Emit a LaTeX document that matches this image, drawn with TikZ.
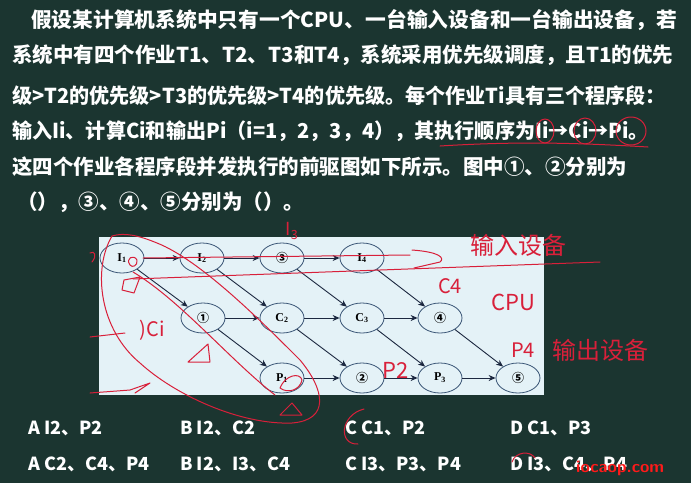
\documentclass[tikz,border=0pt]{standalone}
\usepackage{fontspec}
\setmainfont{Liberation Serif}
\newfontfamily\cjk{Noto Sans CJK SC}
\usetikzlibrary{arrows.meta,shapes.geometric}
\definecolor{bg}{HTML}{1B3530}
\definecolor{boxfill}{HTML}{E4F2F7}
\definecolor{nodeline}{HTML}{3A5676}
\definecolor{edgecol}{HTML}{1C2840}
\definecolor{pen}{HTML}{D8203A}
\definecolor{mark}{HTML}{FF1A1A}
\begin{document}
\begin{tikzpicture}[x=1pt,y=-1pt,
  qline/.style={font=\cjk\bfseries\fontsize{20.5}{24}\selectfont, text=white, anchor=west, inner sep=0},
  opt/.style={font=\cjk\bfseries\fontsize{18}{22}\selectfont, text=white, anchor=west, inner sep=0},
  gnode/.style={ellipse, draw=nodeline, line width=0.8pt, minimum width=44pt, minimum height=30pt, inner sep=0, font=\fontsize{12}{14}\selectfont\bfseries},
  edge/.style={-{Stealth[length=7pt,width=6pt]}, draw=edgecol, line width=0.9pt},
  hand/.style={text=pen, font=\cjk\fontsize{18}{20}\selectfont, inner sep=0},
  stroke/.style={draw=pen, line width=1pt, line cap=round, line join=round}]
\fill[bg] (0,0) rectangle (691,483);
\useasboundingbox (0,0) rectangle (691,483);

% question text
\node[qline] (l1) at (31,20) {\scalebox{1.012}[1]{假设某计算机系统中只有一个CPU、一台输入设备和一台输出设备，若}};
\node[qline] (l2) at (12,55) {系统中有四个作业T1、T2、T3和T4，系统采用优先级调度，且T1的优先};
\node[qline] (l3) at (12,96) {\scalebox{0.98}[1]{级>T2的优先级>T3的优先级>T4的优先级。每个作业Ti具有三个程序段：}};
\node[qline] (l4) at (12,131) {\scalebox{0.98}[1]{输入Ii、计算Ci和输出Pi（i=1，2，3，4），其执行顺序为Ii→Ci→Pi。}};
\node[qline] (l5) at (12,167) {这四个作业各程序段并发执行的前驱图如下所示。图中①、②分别为};
\node[qline] (l6) at (17,202) {（），③、④、⑤分别为（）。};

% diagram box
\node[draw=none, fill=boxfill, minimum width=445pt, minimum height=158pt, inner sep=0] (box) at (321.5,316) {};

\node[gnode] (I1) at (122,258) {I\textsubscript{1}};
\node[gnode] (I2) at (202,258) {I\textsubscript{2}};
\node[gnode] (N3) at (282,258) {\cjk ③};
\node[gnode] (I4) at (362,258) {I\textsubscript{4}};
\node[gnode] (N1) at (203,318) {\cjk ①};
\node[gnode] (C2) at (282,318) {C\textsubscript{2}};
\node[gnode] (C3) at (362,318) {C\textsubscript{3}};
\node[gnode] (N4) at (440,318) {\cjk ④};
\node[gnode] (P1) at (282,378) {P\textsubscript{1}};
\node[gnode] (N2) at (362,378) {\cjk ②};
\node[gnode] (P3) at (440,378) {P\textsubscript{3}};
\node[gnode] (N5) at (518,378) {\cjk ⑤};

\draw[edge] (I1) -- (I2);
\draw[edge] (I2) -- (N3);
\draw[edge] (N3) -- (I4);
\draw[edge] (N1) -- (C2);
\draw[edge] (C2) -- (C3);
\draw[edge] (C3) -- (N4);
\draw[edge] (P1) -- (N2);
\draw[edge] (N2) -- (P3);
\draw[edge] (P3) -- (N5);
\draw[edge] (I1) -- (N1);
\draw[edge] (I2) -- (C2);
\draw[edge] (N3) -- (C3);
\draw[edge] (I4) -- (N4);
\draw[edge] (N1) -- (P1);
\draw[edge] (C2) -- (N2);
\draw[edge] (C3) -- (P3);
\draw[edge] (N4) -- (N5);

% options
\node[opt] (a1) at (28,428) {A I2、P2};
\node[opt] (b1) at (180,428) {B I2、C2};
\node[opt] (c1) at (345,428) {C C1、P2};
\node[opt] (d1) at (510,428) {D C1、P3};
\node[opt] (a2) at (28,464) {A C2、C4、P4};
\node[opt] (b2) at (180,464) {B I2、I3、C4};
\node[opt] (c2) at (345,464) {C I3、P3、P4};
\node[opt] (d2) at (510,464) {D I3、C4、P4};
\node[text=mark, font=\fontsize{17}{20}\selectfont\bfseries\sffamily, anchor=west, inner sep=0] (wm) at (576,468) {iocaop.com};

% handwritten annotations
\node[hand] (h1) at (292,231) {I\textsubscript{3}};
\node[hand, font=\cjk\fontsize{24}{26}\selectfont] (h2) at (518,245) {输入设备};
\node[hand, font=\cjk\fontsize{20}{22}\selectfont] (h3) at (450,286) {C4};
\node[hand, font=\cjk\fontsize{22}{24}\selectfont] (h4) at (513,302) {CPU};
\node[hand, font=\cjk\fontsize{20}{22}\selectfont] (h5) at (523,350) {P4};
\node[hand, font=\cjk\fontsize{24}{26}\selectfont] (h6) at (600,350) {输出设备};
\node[hand, font=\cjk\fontsize{22}{24}\selectfont] (h7) at (396,370) {P2};
\node[hand, font=\cjk\fontsize{20}{22}\selectfont] (h8) at (152,330) {)Ci};

% underline and circles in the question
\draw[stroke] (440,146) .. controls (520,141) and (580,143) .. (648,147);
\draw[stroke] (545,131) ellipse (9pt and 12pt);
\draw[stroke] (585,131) ellipse (11pt and 13pt);
\draw[stroke] (631,131) ellipse (15pt and 14pt);
% lines across the top row
\draw[stroke] (143,258) -- (410,255);
\draw[stroke] (412,250) .. controls (440,252) and (445,258) .. (440,262) -- (414,268);
\draw[stroke] (133,279) -- (600,262);
% loop round the first diagonal
\draw[stroke] (112,236) .. controls (92,270) and (100,330) .. (140,363)
  .. controls (175,395) and (240,425) .. (292,423)
  .. controls (330,420) and (325,390) .. (300,360)
  .. controls (260,320) and (200,260) .. (157,243)
  .. controls (140,236) and (125,232) .. (112,236);
\draw[stroke] (133,272) .. controls (180,300) and (230,360) .. (275,395);
% small marks
\draw[stroke] (130,265) .. controls (125,258) and (134,254) .. (137,260) .. controls (138,266) and (132,268) .. (130,265);
\draw[stroke] (124,280) -- (140,277) -- (134,293) -- (122,290) -- cycle;
\draw[stroke] (188,362) -- (208,344) -- (210,362) -- cycle;
\draw[stroke] (280,388) .. controls (285,375) and (300,372) .. (302,380) .. controls (300,390) and (288,394) .. (280,388);
\draw[stroke] (280,415) -- (292,403) -- (302,415) -- cycle;
\draw[stroke] (90,337) -- (125,333);
\draw[stroke] (90,253) .. controls (95,250) and (97,256) .. (92,262);
\draw[stroke] (90,393) -- (130,390) -- (150,383) -- (135,393);
% circles round the answers
\draw[stroke] (364,409) .. controls (340,415) and (338,445) .. (358,444);
\draw[stroke] (512,462) .. controls (515,452) and (530,450) .. (535,458);
\end{tikzpicture}
\end{document}
